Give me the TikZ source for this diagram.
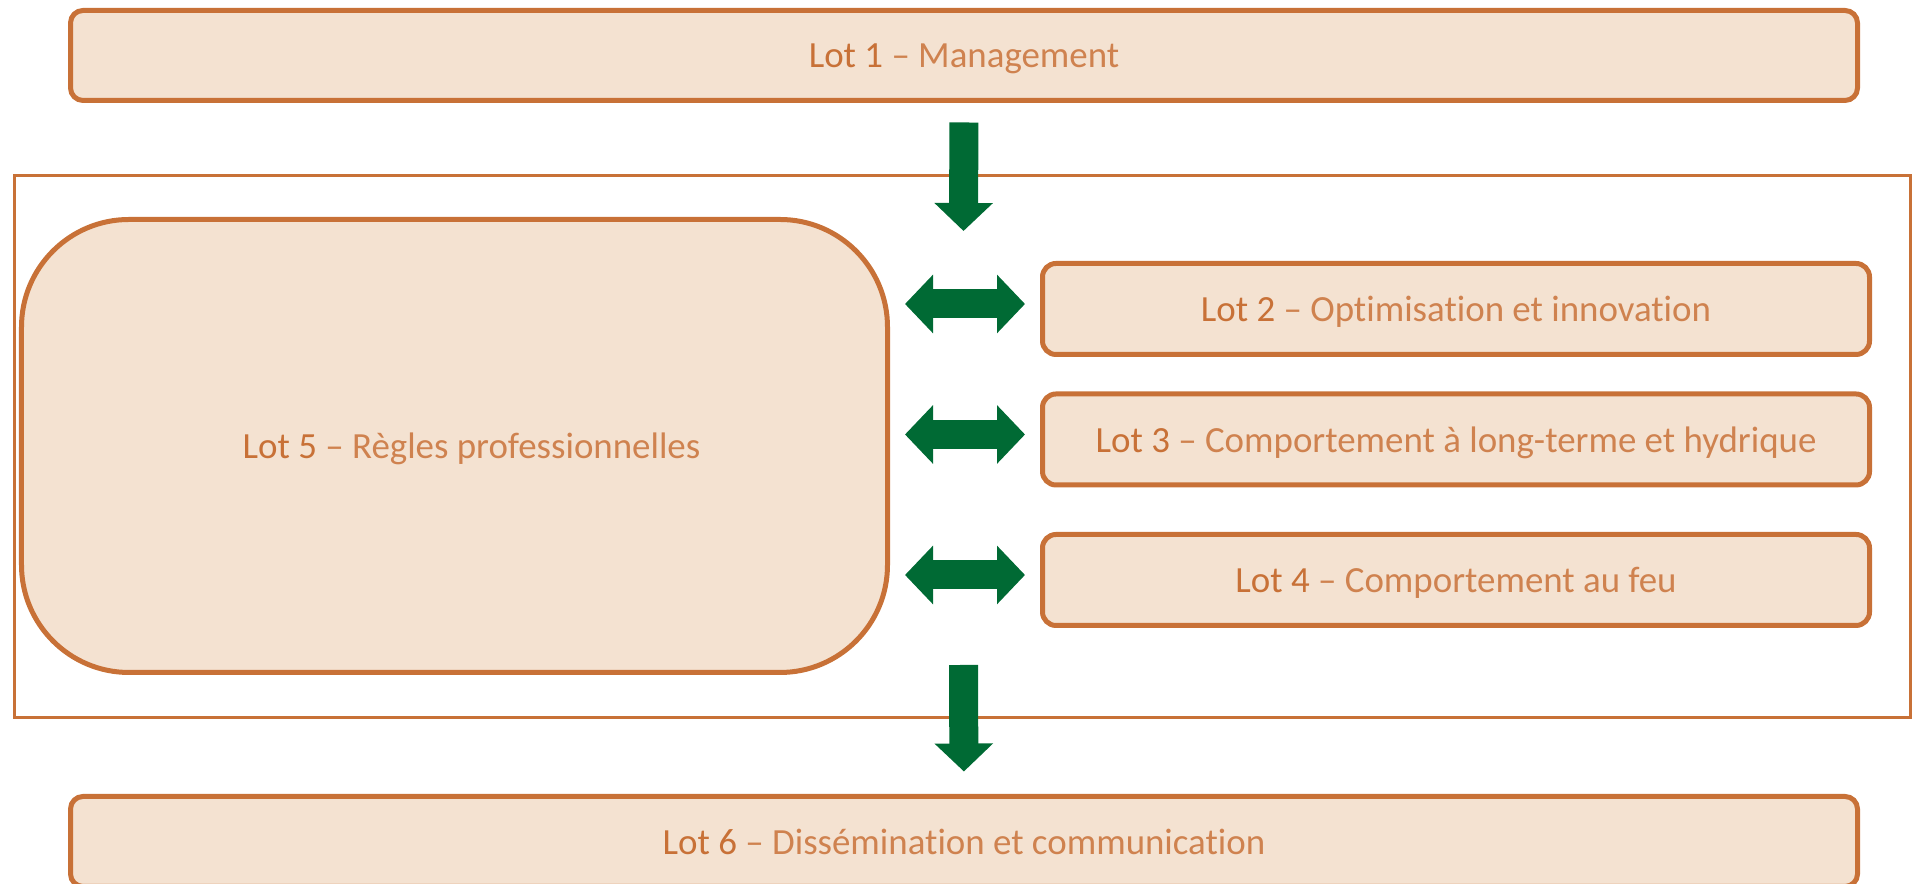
\documentclass[tikz,border=0pt]{standalone}
\usepackage{fontspec}
\setmainfont{Carlito}[Ligatures={TeX,NoCommon}]
\usetikzlibrary{arrows.meta,positioning}
\definecolor{lotline}{RGB}{200,113,55}
\definecolor{lotfill}{RGB}{244,226,209}
\definecolor{lotgreen}{RGB}{0,106,52}
\newcommand{\lotname}[2]{Lot #1 {\color{lotline!88!white}-- #2}}
\tikzset{
  lotfont/.style={text=lotline, text depth=0pt, font=\fontsize{21}{25}\selectfont},
  lot/.style={draw=lotline, fill=lotfill, line width=0.1cm, rounded corners=0.25cm,
    inner sep=0pt, lotfont},
  wide/.style={lot, minimum width=35.74cm, minimum height=1.8cm},
  side/.style={lot, minimum width=16.54cm, minimum height=1.82cm, rounded corners=0.27cm},
  blockarrow/.style={draw=lotgreen, line width=0.58cm, >={Triangle[width=1.14cm,length=0.56cm]}},
  down/.style={blockarrow, ->},
  both/.style={blockarrow, <->, shorten <=0.3cm, shorten >=0.3cm},
}
\begin{document}
\begin{tikzpicture}
\useasboundingbox (0,0) rectangle (38.24,17.68);
% work packages frame
\node[draw=lotline, line width=0.06cm, minimum width=37.92cm, minimum height=10.84cm] (frame) at (19.25,8.75) {};
\node[wide] (lot1) at (19.28,16.57) {\lotname{1}{Management}};
\node[lot, minimum width=17.32cm, minimum height=9.06cm, rounded corners=2.15cm,
  label={[lotfont, xshift=0.34cm]center:\lotname{5}{Règles professionnelles}}] (lot5) at (9.09,8.76) {};
\node[side] (lot2) at (29.12,11.5) {\lotname{2}{Optimisation et innovation}};
\node[side] (lot3) at (29.12,8.89) {\lotname{3}{Comportement à long-terme et hydrique}};
\node[side] (lot4) at (29.12,6.08) {\lotname{4}{Comportement au feu}};
\node[wide] (lot6) at (19.28,0.85) {\lotname{6}{Dissémination et communication}};
\coordinate (in) at (19.27,13.06);
\coordinate (out) at (19.27,4.38);
% arrows
\draw[down, shorten <=0.39cm] (lot1.south) -- (in);
\draw[down, shorten >=0.45cm] (out) -- (lot6.north);
\foreach \n in {2,3,4}
  \draw[both] ([yshift=1mm]lot5.east |- lot\n.west) -- ([yshift=1mm]lot\n.west);
\end{tikzpicture}
\end{document}
